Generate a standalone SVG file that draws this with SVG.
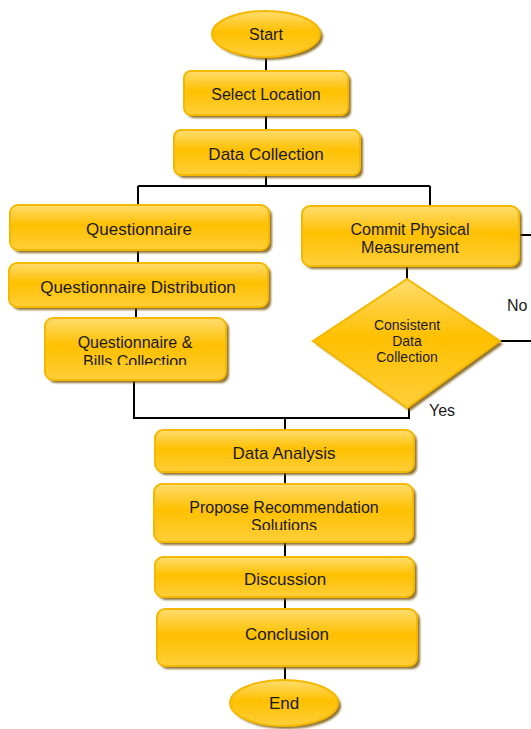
<svg xmlns="http://www.w3.org/2000/svg" width="531" height="729" viewBox="0 0 531 729">
<defs>
<linearGradient id="g" x1="0" y1="0" x2="0" y2="1">
<stop offset="0" stop-color="#FFDC6E"/>
<stop offset="0.45" stop-color="#FFC000"/>
<stop offset="1" stop-color="#FFCF3A"/>
</linearGradient>
<filter id="blur" x="-10%" y="-10%" width="130%" height="130%"><feGaussianBlur stdDeviation="1"/></filter>
<clipPath id="cQB"><rect x="45" y="318" width="181" height="47"/></clipPath>
<clipPath id="cPR"><rect x="154" y="484" width="259" height="46"/></clipPath>
</defs>
<style>
.sh{fill:#7A5A0A;opacity:0.85;filter:url(#blur)}
.bx{fill:url(#g);stroke:#F5B800;stroke-width:2}
.t{font-family:"Liberation Sans",Arial,sans-serif;font-size:17px;fill:#1a1a1a;text-anchor:middle}
.s{font-size:16px}
.d{font-size:14px}
.c{fill:none;stroke:#000;stroke-width:2}
.lb{font-family:"Liberation Sans",Arial,sans-serif;font-size:16px;fill:#1a1a1a}
</style>
<rect width="531" height="729" fill="#fff"/>
<g id="connectors">
<path class="c" d="M266 58V71M266 115V130M266 175V186M138 186H430M138 186V207M430 186V207"/>
<path class="c" d="M138 250V263M136 307V318M134 380V418H409V408M407 266V279M285 418V430"/>
<path class="c" d="M519 235H531M500 341H531"/>
<path class="c" d="M285 472V484M285 542V557M285 597V609M285 666V680"/>
</g>
<g id="start">
<ellipse class="sh" cx="269" cy="37" rx="54" ry="23"/>
<ellipse class="bx" cx="266" cy="34" rx="54" ry="23"/>
<text class="t s" x="266" y="40">Start</text>
</g>
<g id="select-location">
<rect class="sh" x="187" y="74" width="164" height="44" rx="7"/>
<rect class="bx" x="184" y="71" width="164" height="44" rx="7"/>
<text class="t s" x="266" y="100">Select Location</text>
</g>
<g id="data-collection">
<rect class="sh" x="177" y="133" width="186" height="45" rx="7"/>
<rect class="bx" x="174" y="130" width="186" height="45" rx="7"/>
<text class="t" x="266" y="160">Data Collection</text>
</g>
<g id="questionnaire">
<rect class="sh" x="13" y="208" width="259" height="45" rx="8"/>
<rect class="bx" x="10" y="205" width="259" height="45" rx="8"/>
<text class="t" x="139" y="235">Questionnaire</text>
</g>
<g id="questionnaire-distribution">
<rect class="sh" x="12" y="266" width="259" height="44" rx="8"/>
<rect class="bx" x="9" y="263" width="259" height="44" rx="8"/>
<text class="t" x="138" y="293">Questionnaire Distribution</text>
</g>
<g id="questionnaire-bills">
<rect class="sh" x="48" y="321" width="181" height="62" rx="8"/>
<rect class="bx" x="45" y="318" width="181" height="62" rx="8"/>
<g clip-path="url(#cQB)">
<text class="t s" x="135" y="348">Questionnaire &amp;</text>
<text class="t s" x="135" y="367">Bills Collection</text>
</g>
</g>
<g id="commit-physical">
<rect class="sh" x="305" y="209" width="217" height="60" rx="8"/>
<rect class="bx" x="302" y="206" width="217" height="60" rx="8"/>
<text class="t s" x="410" y="235">Commit Physical</text>
<text class="t s" x="410" y="253">Measurement</text>
</g>
<g id="consistent">
<polygon class="sh" points="410,282 503,344 410,411 316,344"/>
<polygon class="bx" points="407,279 500,341 407,408 313,341"/>
<text class="t d" x="407" y="330">Consistent</text>
<text class="t d" x="407" y="346">Data</text>
<text class="t d" x="407" y="362">Collection</text>
</g>
<text class="lb" x="507" y="311">No</text>
<text class="lb" x="429" y="416">Yes</text>
<g id="data-analysis">
<rect class="sh" x="158" y="433" width="259" height="42" rx="8"/>
<rect class="bx" x="155" y="430" width="259" height="42" rx="8"/>
<text class="t" x="284" y="459">Data Analysis</text>
</g>
<g id="propose">
<rect class="sh" x="157" y="487" width="259" height="58" rx="8"/>
<rect class="bx" x="154" y="484" width="259" height="58" rx="8"/>
<g clip-path="url(#cPR)">
<text class="t s" x="284" y="513">Propose Recommendation</text>
<text class="t s" x="284" y="531">Solutions</text>
</g>
</g>
<g id="discussion">
<rect class="sh" x="158" y="560" width="259" height="40" rx="8"/>
<rect class="bx" x="155" y="557" width="259" height="40" rx="8"/>
<text class="t" x="285" y="585">Discussion</text>
</g>
<g id="conclusion">
<rect class="sh" x="160" y="612" width="260" height="57" rx="8"/>
<rect class="bx" x="157" y="609" width="260" height="57" rx="8"/>
<text class="t" x="287" y="640">Conclusion</text>
</g>
<g id="end">
<ellipse class="sh" cx="287" cy="706" rx="54" ry="23"/>
<ellipse class="bx" cx="284" cy="703" rx="54" ry="23"/>
<text class="t" x="284" y="709">End</text>
</g>
</svg>
